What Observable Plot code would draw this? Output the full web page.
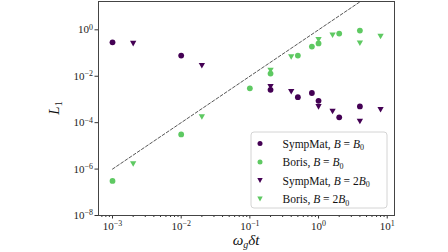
<!DOCTYPE html>
<html><head><meta charset="utf-8">
<script src="https://cdn.jsdelivr.net/npm/d3@7"></script>
<script src="https://cdn.jsdelivr.net/npm/@observablehq/plot@0.6"></script>
<style>body{margin:0;background:#fff}</style>
</head><body><div id="chart"></div>
<script>
// Data
const sympB0X = [0.001, 0.01, 0.2, 0.5, 0.8, 1, 2, 4];
const sympB0Y = [0.29, 0.078, 0.0026, 0.00125, 0.0019, 0.00087, 0.00017, 0.0005];
const borisB0X = [0.001, 0.01, 0.1, 0.2, 0.5, 0.8, 1, 2, 4];
const borisB0Y = [3.1e-7, 3.1e-5, 0.003, 0.013, 0.078, 0.19, 0.26, 0.69, 0.93];
const symp2B0X = [0.002, 0.02, 0.2, 0.4, 1, 1.6, 4, 8];
const symp2B0Y = [0.26, 0.029, 0.0036, 0.0022, 0.00049, 0.00031, 0.000115, 0.00037];
const boris2B0X = [0.002, 0.02, 0.2, 0.4, 1, 1.6, 4, 8];
const boris2B0Y = [1.7e-6, 0.00018, 0.018, 0.069, 0.38, 0.6, 0.27, 0.53];
const refX = [0.001, 10];
const refY = [1e-6, 100];
const seriesNames = ["SympMat, B=B0", "Boris, B=B0", "SympMat, B=2B0", "Boris, B=2B0"];
const xTicks = [1e-3, 1e-2, 1e-1, 1, 10];
const xTickLabels = ["-3", "-2", "-1", "0", "1"];
const yTicks = [1e-8, 1e-6, 1e-4, 1e-2, 1];
const yTickLabels = ["-8", "-6", "-4", "-2", "0"];

const dark = "#440154", green = "#5ec962";
const toRows = (xs, ys) => xs.map((x, i) => ({x, y: ys[i]}));
const triDown = {
  draw(ctx, size) {
    const r = Math.sqrt(size / Math.PI);
    ctx.moveTo(-r * 1.05, -r * 0.85);
    ctx.lineTo(r * 1.05, -r * 0.85);
    ctx.lineTo(0, r * 1.0);
    ctx.closePath();
  }
};
const minorX = [];
for (let e = -4; e <= 1; e++) for (let m = 2; m <= 9; m++) {
  const v = m * 10 ** e;
  if (v > 10 ** -3.2 && v < 10 ** 1.1) minorX.push(v);
}

const font = "'Liberation Serif', 'DejaVu Serif', serif";
const plot = Plot.plot({
  width: 448, height: 252,
  marginLeft: 98, marginRight: 54, marginTop: 1, marginBottom: 37,
  style: {fontFamily: font, fontSize: "11px", color: "#222", background: "#fff"},
  x: {type: "log", domain: [10 ** -3.204, 10 ** 1.106]},
  y: {type: "log", domain: [1e-8, 10 ** 1.22]},
  marks: [
    Plot.line(toRows(refX, refY), {x: "x", y: "y", stroke: "#444", strokeWidth: 0.9, strokeDasharray: "3,2", clip: true}),
    Plot.dot(toRows(sympB0X, sympB0Y), {x: "x", y: "y", r: 2.9, fill: dark, symbol: "circle"}),
    Plot.dot(toRows(borisB0X, borisB0Y), {x: "x", y: "y", r: 2.9, fill: green, symbol: "circle"}),
    Plot.dot(toRows(symp2B0X, symp2B0Y), {x: "x", y: "y", r: 3, fill: dark, symbol: triDown}),
    Plot.dot(toRows(boris2B0X, boris2B0Y), {x: "x", y: "y", r: 3, fill: green, symbol: triDown}),
    Plot.axisX(minorX, {tickSize: 2, tickFormat: () => "", stroke: "#333", label: null}),
    Plot.axisX(xTicks, {tickSize: 3.5, tickPadding: 3, stroke: "#333", label: null,
      tickFormat: d => xTickLabels[xTicks.indexOf(d)], fontSize: 11}),
    Plot.axisY(yTicks, {tickSize: 3.5, tickPadding: 2, stroke: "#333", label: null,
      tickFormat: d => yTickLabels[yTicks.indexOf(d)], fontSize: 11}),
    Plot.frame({stroke: "#444", strokeWidth: 1})
  ]
});
document.getElementById("chart").appendChild(plot);

const svg = d3.select(plot);
// Convert tick labels to 10^n
svg.selectAll('g[aria-label="x-axis tick label"] text, g[aria-label="y-axis tick label"] text').each(function() {
  const t = d3.select(this);
  const s = t.text();
  if (s === "") return;
  t.text(null);
  t.append("tspan").text("10");
  t.append("tspan").attr("dy", "-0.45em").attr("font-size", "0.72em").text(s.replace("-", "\u2212"));
});

// Axis labels
svg.append("text").attr("transform", "translate(59,108) rotate(-90)")
  .attr("text-anchor", "middle").attr("font-family", font).attr("font-size", 15).attr("fill", "#111")
  .call(t => {
    t.append("tspan").attr("font-style", "italic").text("L");
    t.append("tspan").attr("font-size", 10).attr("dy", 3).text("1");
  });
svg.append("text").attr("x", 246).attr("y", 245)
  .attr("text-anchor", "middle").attr("font-family", font).attr("font-size", 15).attr("fill", "#111")
  .call(t => {
    t.append("tspan").attr("font-style", "italic").text("ω");
    t.append("tspan").attr("font-style", "italic").attr("font-size", 10).attr("dy", 3).text("g");
    t.append("tspan").attr("font-style", "italic").attr("dy", -3).text("δt");
  });

// Legend
const lg = svg.append("g").attr("text-anchor", "start");
lg.append("rect").attr("x", 251).attr("y", 132).attr("width", 136).attr("height", 76).attr("rx", 3)
  .attr("fill", "#fff").attr("fill-opacity", 0.85).attr("stroke", "#d4d4d4").attr("stroke-width", 1);
const rowsY = [143.5, 162, 180.5, 199];
const syms = [
  {c: dark, tri: false, m: "SympMat, ", two: false},
  {c: green, tri: false, m: "Boris, ", two: false},
  {c: dark, tri: true, m: "SympMat, ", two: true},
  {c: green, tri: true, m: "Boris, ", two: true}
];
syms.forEach((s, i) => {
  const y = rowsY[i];
  if (s.tri) lg.append("path").attr("d", `M${257.3},${y - 2.4}L${262.7},${y - 2.4}L${260},${y + 2.6}Z`).attr("fill", s.c);
  else lg.append("circle").attr("cx", 260).attr("cy", y).attr("r", 2.5).attr("fill", s.c);
  const t = lg.append("text").attr("x", 282.5).attr("y", y + 4).attr("text-anchor", "start")
    .attr("font-family", font).attr("font-size", 11.5).attr("fill", "#111");
  t.append("tspan").text(s.m);
  t.append("tspan").attr("font-style", "italic").text("B");
  t.append("tspan").text(" = " + (s.two ? "2" : ""));
  t.append("tspan").attr("font-style", "italic").text("B");
  t.append("tspan").attr("font-size", 8).attr("dy", 2.5).text("0");
});
</script></body></html>
